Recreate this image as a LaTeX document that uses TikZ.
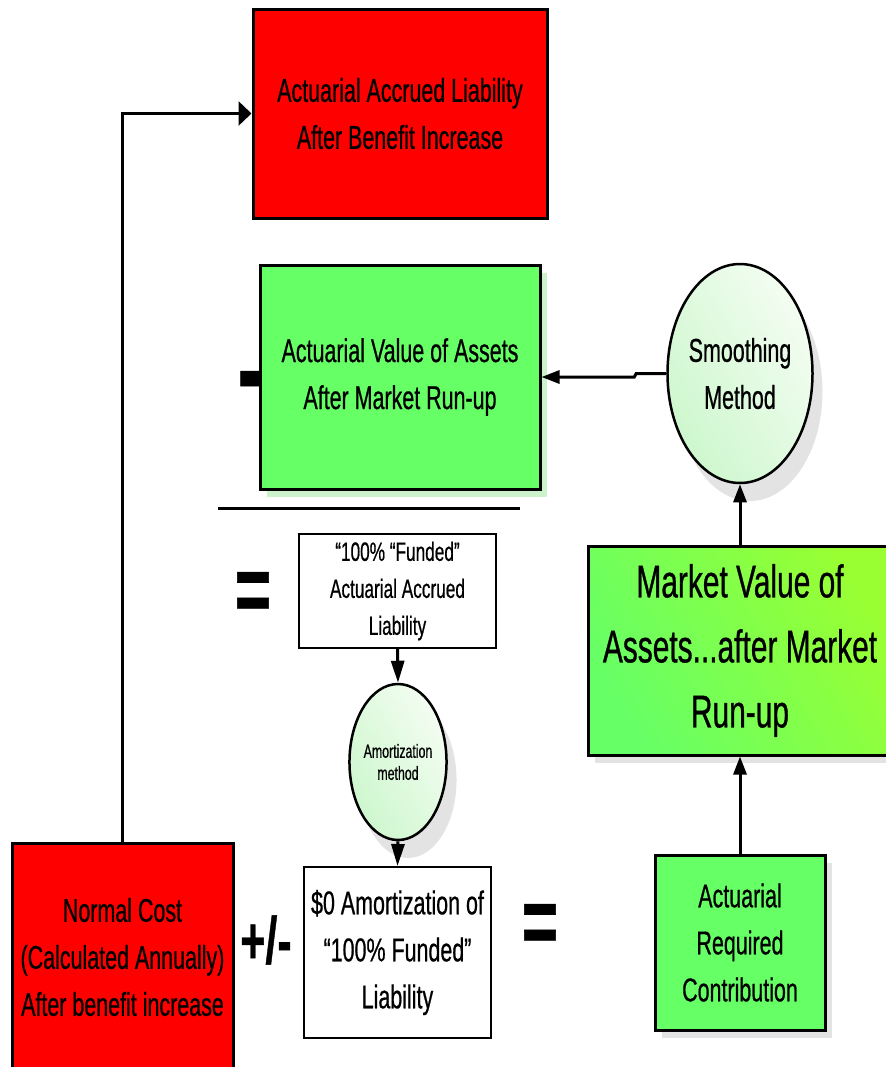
\documentclass[tikz,border=0pt]{standalone}
\usepackage{fontspec}
\setmainfont[FakeStretch=0.65,FakeBold=0.6]{Liberation Sans}
\usetikzlibrary{arrows.meta,shapes.geometric,shadows}
\definecolor{alred}{HTML}{FF0000}
\definecolor{avagreen}{HTML}{66FF66}
\definecolor{mvagreen}{HTML}{99FF33}
\definecolor{ellgreen}{HTML}{CDF7CD}
\definecolor{ellwhite}{HTML}{F4FDF2}
\definecolor{shadgreen}{HTML}{CCF2CC}
\definecolor{shadgray}{HTML}{E3E3E3}
\newcommand{\bigsym}{\fontsize{48}{48}\selectfont\bfseries}

\begin{document}
\begin{tikzpicture}[x=0.5pt,y=-0.5pt,->,>={Triangle[length=9pt,width=6.5pt]},line width=1.5pt,
	box/.style={draw,rectangle,inner sep=0pt,align=center,font=\fontsize{16.5}{23.5}\selectfont},
	redbox/.style={box,fill=alred},
	greenbox/.style={box,fill=avagreen,drop shadow={shadow xshift=3.5pt,shadow yshift=-4pt,fill=shadgreen,opacity=1}},
	whitebox/.style={draw,rectangle,inner sep=0pt,align=center,line width=1pt,fill=white},
	method/.style={draw,ellipse,inner sep=0pt,align=center,line width=1.25pt,left color=ellgreen,right color=ellwhite,shading angle=120,
		drop shadow={shadow xshift=5pt,shadow yshift=-9pt,fill=shadgray,opacity=1}},
	sym/.style={inner sep=0pt,font=\bigsym}]
		\useasboundingbox (0,0) rectangle (886,1067);

		\node[redbox,minimum width=147pt,minimum height=104.5pt] (aal) at (400,113.5) {Actuarial Accrued Liability\\After Benefit Increase};
		\node[greenbox,minimum width=140pt,minimum height=112pt] (ava) at (400,377) {Actuarial Value of Assets\\After Market Run-up};
		\node[method,minimum width=55pt,minimum height=109.5pt,font=\fontsize{16.5}{23.5}\selectfont] (smooth) at (740,373.5) {Smoothing\\Method};
		\node[sym,font=\fontsize{62}{62}\selectfont\bfseries] (minus) at (251,391) {-};
		\draw[-] (218,508) -- (520,508);

		\node[sym] (eq1) at (253,597) {=};
		\node[whitebox,minimum width=98.5pt,minimum height=57pt,font=\fontsize{13.25}{18.5}\selectfont] (funded) at (397.5,591) {“100\% “Funded”\\Actuarial Accrued\\Liability};
		\node[method,minimum width=37pt,minimum height=78pt,font=\fontsize{9.5}{11}\selectfont] (amort) at (398,762) {Amortization\\method};
		\node[whitebox,minimum width=93.5pt,minimum height=85.5pt,font=\fontsize{16.5}{23.5}\selectfont] (zero) at (397.5,952.5) {\$0 Amortization of\\“100\% Funded”\\Liability};

		\node[redbox,minimum width=110.5pt,minimum height=114pt] (nc) at (122.5,957) {Normal Cost\\(Calculated Annually)\\After benefit increase};
		\node[inner sep=0pt,font=\fontsize{33}{33}\selectfont\bfseries] (pm) at (266,940) {+/-};
		\node[sym] (eq2) at (540,929) {=};

		\node[greenbox,minimum width=85pt,minimum height=87.5pt,drop shadow={shadow xshift=3.5pt,shadow yshift=-4pt,fill=shadgray,opacity=1}] (arc) at (740,942.5) {Actuarial\\Required\\Contribution};
		\node[box,minimum width=152pt,minimum height=104.5pt,left color=avagreen,right color=mvagreen,shading angle=120,
			font=\fontsize{23}{32.5}\selectfont,drop shadow={shadow xshift=3.5pt,shadow yshift=-4pt,fill=shadgray,opacity=1}] (mva) at (740,650.5) {Market Value of\\Assets...after Market\\Run-up};

		\draw[-{Triangle[length=6.5pt,width=12pt]}] (nc.north) |- (aal.west);
		\draw (smooth.west) -- ++(-30,0) -- ++(-2,3.5) -- (ava.east);
		\draw[-{Triangle[length=11pt,width=6.5pt]}] (funded.south) -- (amort.north);
		\draw[-{Triangle[length=11pt,width=6.5pt]}] (amort.south) -- (zero.north);
		\draw (arc.north) -- (mva.south);
		\draw (mva.north) -- (smooth.south);
\end{tikzpicture}
\end{document}
